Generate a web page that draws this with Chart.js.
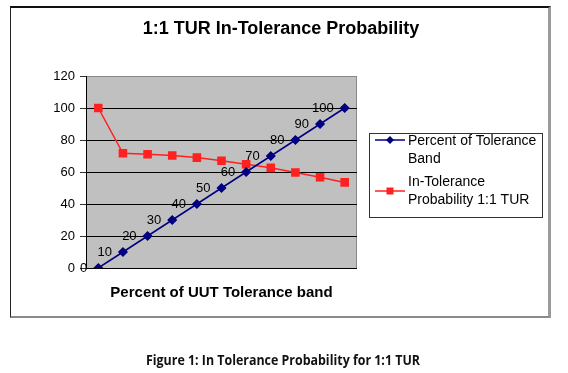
<!DOCTYPE html>
<html>
<head>
<meta charset="utf-8">
<script src="https://cdn.jsdelivr.net/npm/chart.js@4.4.0/dist/chart.umd.min.js"></script>
<style>
  body { margin:0; background:#fff; width:568px; height:373px; position:relative; overflow:hidden; }
  #frame { position:absolute; left:10px; top:6px; width:537px; height:308px;
           border-top:2px solid #111; border-left:1px solid #222;
           border-right:3px solid #9a9a9a; border-bottom:2px solid #8a8a8a; }
  #c { position:absolute; left:0; top:0; }
  #caption { position:absolute; top:350px; left:0; white-space:nowrap;
             font:bold 14px "Open Sans", "Liberation Sans", sans-serif; color:#111; transform-origin:0 0; }
</style>
</head>
<body>
<div id="frame"></div>
<canvas id="c" width="568" height="373"></canvas>
<div id="caption">Figure 1: In Tolerance Probability for 1:1 TUR</div>
<script>
// datos
var categories = ['0','10','20','30','40','50','60','70','80','90','100']
var percentBand = [0,10,20,30,40,50,60,70,80,90,100]
var inTolerance = [100,71.7,71.1,70.3,69,67,64.8,62.6,59.7,56.7,53.5]
var yTicks = [0,20,40,60,80,100,120]
var chartTitle = '1:1 TUR In-Tolerance Probability'
var xTitle = 'Percent of UUT Tolerance band'
var legendLines = [['Percent of Tolerance','Band'],['In-Tolerance','Probability 1:1 TUR']]

var FONT = '"Liberation Sans", Arial, sans-serif'

/* fondo gris del area de trazado */
var plotBg = {
    id:'plotBg',
    beforeDraw:function(c){
        var a = c.chartArea, ctx = c.ctx
        ctx.save()
        ctx.fillStyle = '#c0c0c0'
        ctx.fillRect(a.left, a.top, a.right-a.left, a.bottom-a.top)
        ctx.strokeStyle = '#888'
        ctx.lineWidth = 1
        ctx.strokeRect(a.left+0.5, a.top+0.5, a.right-a.left-1, a.bottom-a.top)
        ctx.restore()
    }
}

/* etiquetas de la serie azul, titulos y leyenda */
var extras = {
    id:'extras',
    afterDatasetsDraw:function(c){
        var ctx = c.ctx
        var pts = c.getDatasetMeta(0).data
        ctx.save()
        ctx.font = '13px '+FONT
        ctx.fillStyle = '#000'
        ctx.textAlign = 'right'
        ctx.textBaseline = 'middle'
        for(var i = 0; i < pts.length; ++i)
            ctx.fillText(String(percentBand[i]), pts[i].x-11, pts[i].y)
        ctx.restore()
    },
    afterDraw:function(c){
        var ctx = c.ctx, a = c.chartArea
        ctx.save()
        ctx.fillStyle = '#000'
        ctx.textAlign = 'center'
        ctx.textBaseline = 'middle'
        ctx.font = 'bold 18px '+FONT
        ctx.fillText(chartTitle, 281, 29)
        ctx.font = 'bold 15px '+FONT
        ctx.fillText(xTitle, (a.left+a.right)/2, 293)

        // leyenda
        ctx.strokeStyle = '#333'
        ctx.lineWidth = 1
        ctx.strokeRect(369.5, 133.5, 173, 84)
        ctx.textAlign = 'left'
        ctx.font = '14px '+FONT
        var ds = c.data.datasets
        var tops = [141, 182]
        var markY = [140, 191]
        for(var k = 0; k < ds.length; ++k){
            ctx.strokeStyle = ds[k].borderColor
            ctx.lineWidth = 1.5
            ctx.beginPath()
            ctx.moveTo(375, markY[k])
            ctx.lineTo(405, markY[k])
            ctx.stroke()
            ctx.fillStyle = ds[k].pointBackgroundColor
            ctx.beginPath()
            if(k == 0){
                ctx.moveTo(390, markY[k]-4); ctx.lineTo(394, markY[k]); ctx.lineTo(390, markY[k]+4); ctx.lineTo(386, markY[k])
            }else{
                ctx.rect(386.5, markY[k]-3.5, 7, 7)
            }
            ctx.fill()
            ctx.fillStyle = '#000'
            for(var j = 0; j < legendLines[k].length; ++j)
                ctx.fillText(legendLines[k][j], 408, tops[k]+j*18.5)
        }
        ctx.restore()
    }
}

var chart = new Chart(document.getElementById('c').getContext('2d'), {
    type:'line',
    data:{
        labels:categories,
        datasets:[{
            label:legendLines[0].join(' '),
            data:percentBand,
            borderColor:'#000080',
            backgroundColor:'#000080',
            pointBackgroundColor:'#000080',
            pointBorderColor:'#000080',
            pointStyle:'rectRot',
            pointRadius:4,
            borderWidth:1.5,
            tension:0
        },{
            label:legendLines[1].join(' '),
            data:inTolerance,
            borderColor:'#ff2020',
            backgroundColor:'#ff2020',
            pointBackgroundColor:'#ff2020',
            pointBorderColor:'#ff2020',
            pointStyle:'rect',
            pointRadius:5,
            borderWidth:1.5,
            tension:0
        }]
    },
    options:{
        responsive:false,
        animation:false,
        devicePixelRatio:1,
        layout:{padding:{left:0, top:76, right:211, bottom:105}},
        plugins:{legend:{display:false}, title:{display:false}, tooltip:{enabled:false}},
        scales:{
            x:{display:false, offset:true},
            y:{
                min:0, max:120,
                afterFit:function(s){ s.width = 86 },
                afterBuildTicks:function(s){ s.ticks = yTicks.map(function(v){ return {value:v} }) },
                ticks:{color:'#000', font:{family:FONT, size:13}, padding:5},
                grid:{
                    color:function(ctx){ return ctx.tick && ctx.tick.value == 120 ? '#888' : '#000' },
                    tickColor:'#333',
                    tickLength:6,
                    lineWidth:1
                },
                border:{display:true, color:'#000', width:1}
            }
        }
    },
    plugins:[plotBg, extras]
})

// ajustar el pie de figura al ancho del original
var cap = document.getElementById('caption')
var w = cap.getBoundingClientRect().width
cap.style.transform = 'scaleX('+(274/w)+')'
cap.style.left = '146px'
</script>
</body>
</html>
